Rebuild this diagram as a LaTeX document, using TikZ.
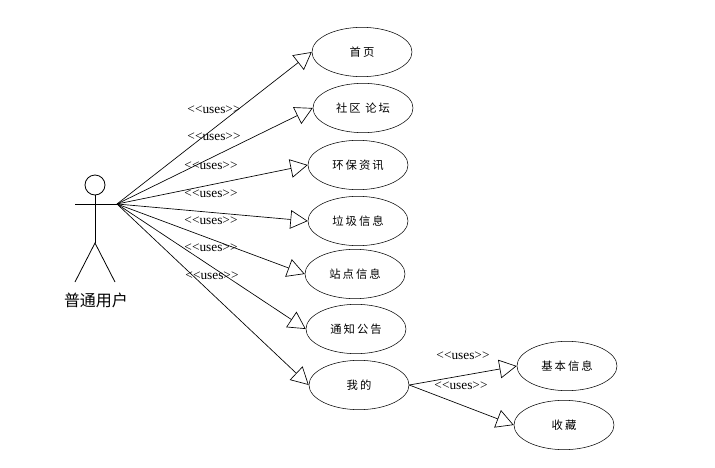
\documentclass[tikz,border=0pt]{standalone}
\usepackage{fontspec}
\setmainfont{Liberation Serif}
\newfontfamily\cjk[LetterSpace=18]{Noto Sans CJK SC}
\newfontfamily\cjkplain{Noto Sans CJK SC}
\usetikzlibrary{shapes.geometric,arrows.meta}
\tikzset{
  usecase/.style={draw,ellipse,minimum width=75pt,minimum height=37pt,inner sep=0pt,font=\cjk\fontsize{8.5pt}{10pt}\selectfont},
  uses/.style={inner sep=0pt,font=\fontsize{10pt}{12pt}\selectfont},
  assoc/.style={draw,-{Triangle[open,length=13pt,width=14pt]},line width=0.5pt},
  stick/.style={draw,line width=0.6pt}
}
\begin{document}
\begin{tikzpicture}[x=0.75pt,y=-0.75pt]
\useasboundingbox (0,0) rectangle (715,468);
% use cases
\node[usecase] (home) at (362,52) {首页};
\node[usecase] (forum) at (363,108) {社区 论坛};
\node[usecase] (news) at (358,165) {环保资讯};
\node[usecase] (trash) at (358,221) {垃圾信息};
\node[usecase] (site) at (355,274) {站点信息};
\node[usecase] (notice) at (356,329) {通知公告};
\node[usecase] (mine) at (359,385) {我的};
\node[usecase] (basic) at (567,366) {基本信息};
\node[usecase] (fav) at (564,425) {收藏};
% actor
\node[draw,circle,minimum size=15pt,inner sep=0pt,line width=0.6pt] (head) at (95,185) {};
\coordinate (hip) at (95,243);
\coordinate (larm) at (75,204);
\coordinate (hand) at (117,204);
\coordinate (lfoot) at (75,282);
\coordinate (rfoot) at (115,282);
\draw[stick] (head.south) -- (hip);
\draw[stick] (larm) -- (hand);
\draw[stick] (lfoot) -- (hip) -- (rfoot);
\node[font=\cjkplain\fontsize{12pt}{14pt}\selectfont,inner sep=0pt] (actorlbl) at (96,300) {普通用户};
% associations
\draw[assoc] (hand) -- (home.west);
\draw[assoc] (hand) -- (forum.west);
\draw[assoc] (hand) -- (news.west);
\draw[assoc] (hand) -- (trash.west);
\draw[assoc] (hand) -- (site.west);
\draw[assoc] (hand) -- (notice.west);
\draw[assoc] (hand) -- (mine.west);
\draw[assoc] (mine.east) -- (basic.west);
\draw[assoc] (mine.east) -- (fav.west);
% labels
\node[uses] (u1) at (214,110) {<{}<uses>{}>};
\node[uses] (u2) at (214,137) {<{}<uses>{}>};
\node[uses] (u3) at (211,166) {<{}<uses>{}>};
\node[uses] (u4) at (211,194) {<{}<uses>{}>};
\node[uses] (u5) at (211,221) {<{}<uses>{}>};
\node[uses] (u6) at (211,248) {<{}<uses>{}>};
\node[uses] (u7) at (212,276) {<{}<uses>{}>};
\node[uses] (u8) at (463,356) {<{}<uses>{}>};
\node[uses] (u9) at (461,386) {<{}<uses>{}>};
\end{tikzpicture}
\end{document}
